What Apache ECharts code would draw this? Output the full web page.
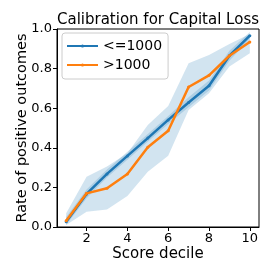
<!DOCTYPE html>
<html><head><meta charset="utf-8">
<script src="https://cdn.jsdelivr.net/npm/echarts@6/dist/echarts.min.js"></script>
<style>html,body{margin:0;padding:0;background:#fff}#c{width:275px;height:275px}</style>
</head><body><div id="c"></div>
<script>
const deciles = [1,2,3,4,5,6,7,8,9,10];
const lowVals = [0.027,0.167,0.268,0.359,0.449,0.541,0.629,0.713,0.865,0.966];
const highVals = [0.032,0.170,0.196,0.268,0.403,0.486,0.707,0.766,0.865,0.934];
const lowBandLo = [0.010,0.145,0.250,0.340,0.430,0.520,0.605,0.690,0.840,0.950];
const lowBandHi = [0.050,0.190,0.290,0.380,0.470,0.560,0.655,0.740,0.890,0.985];
const highBandLo = [0.010,0.077,0.089,0.157,0.279,0.360,0.591,0.675,0.810,0.877];
const highBandHi = [0.069,0.254,0.305,0.372,0.515,0.611,0.827,0.869,0.924,0.975];
const xTicks = [2,4,6,8,10];
const seriesNames = ['<=1000','>1000'];

const pts = (xs, ys) => xs.map((x,i)=>[x, ys[i]]);
const font = 'DejaVu Sans';
const bandColor = 'rgba(31,119,180,0.2)';

function band(lo, hi){
  return {
    type:'custom', silent:true, z:1,
    data:[[deciles[0], lo[0]]],
    renderItem:(params, api) => {
      const top = deciles.map((x,i)=>api.coord([x, hi[i]]));
      const bot = deciles.map((x,i)=>api.coord([x, lo[i]])).reverse();
      return {type:'polygon', shape:{points: top.concat(bot)}, style:{fill:bandColor, stroke:null}};
    }
  };
}

const chart = echarts.init(document.getElementById('c'), null, {renderer:'canvas'});
chart.setOption({
  animation:false,
  textStyle:{fontFamily:font},
  title:{text:'Calibration for Capital Loss', left:158, top:13, padding:0, textAlign:'center',
    textStyle:{fontFamily:font, fontSize:15, fontWeight:'normal', color:'#000'}},
  grid:{left:57, right:16, top:29, bottom:48, show:true, borderColor:'#000', borderWidth:1, backgroundColor:'transparent'},
  legend:{data:seriesNames, orient:'vertical', left:62, top:33, itemWidth:31, itemHeight:4, itemGap:5,
    borderColor:'#ccc', borderWidth:1, borderRadius:3, padding:[6,6,7,4],
    textStyle:{fontFamily:font, fontSize:14, color:'#000', lineHeight:14}},
  xAxis:{type:'value', min:0.55, max:10.45, name:'Score decile', nameLocation:'middle', nameGap:20,
    nameMoveOverlap:false,
    nameTextStyle:{fontFamily:font, fontSize:15, color:'#000'},
    axisLine:{show:true, lineStyle:{color:'#000'}},
    axisTick:{show:true, length:4, customValues:xTicks, lineStyle:{color:'#000'}},
    axisLabel:{customValues:xTicks, margin:5, fontFamily:font, fontSize:13, color:'#000'},
    splitLine:{show:false}},
  yAxis:{type:'value', min:0, max:1, interval:0.2, name:'Rate of positive outcomes', nameLocation:'middle', nameGap:27,
    nameMoveOverlap:false,
    nameTextStyle:{fontFamily:font, fontSize:14.5, color:'#000'},
    axisLine:{show:true, lineStyle:{color:'#000'}},
    axisTick:{show:true, length:4, lineStyle:{color:'#000'}},
    axisLabel:{margin:5, fontFamily:font, fontSize:13, color:'#000', formatter:v=>v.toFixed(1)},
    splitLine:{show:false}},
  series:[
    band(highBandLo, highBandHi),
    band(lowBandLo, lowBandHi),
    {name:seriesNames[0], type:'line', data:pts(deciles, lowVals), symbol:'circle', symbolSize:3,
     itemStyle:{color:'#1f77b4'}, lineStyle:{color:'#1f77b4', width:2.5}, z:3},
    {name:seriesNames[1], type:'line', data:pts(deciles, highVals), symbol:'circle', symbolSize:3,
     itemStyle:{color:'#ff7f0e'}, lineStyle:{color:'#ff7f0e', width:2.5}, z:4}
  ]
});
</script></body></html>
